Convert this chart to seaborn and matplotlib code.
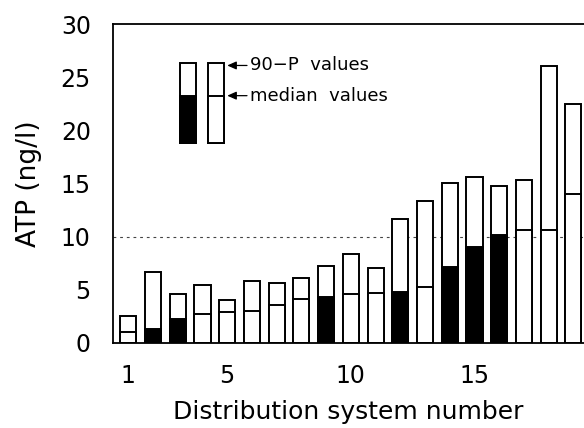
import matplotlib
matplotlib.use('Agg')

import numpy as np
import pandas as pd
import matplotlib.pyplot as plt
import seaborn as sns

sns.set_theme(style="white")
plt.rcParams['font.family'] = ['DejaVu Sans']
plt.rcParams['text.color'] = 'black'
plt.rcParams['axes.labelcolor'] = 'black'
plt.rcParams['xtick.color'] = 'black'
plt.rcParams['ytick.color'] = 'black'

# values (ng/l)
systems = list(range(1, 20))
p90_values = [2.57, 6.71, 4.61, 5.46, 4.05, 5.8, 5.68, 6.11, 7.24, 8.34,
              7.05, 11.66, 13.39, 15.02, 15.59, 14.8, 15.36, 26.06, 22.45]
median_values = [1.03, 1.35, 2.29, 2.76, 2.92, 3.04, 3.61, 4.17, 4.36, 4.58,
                 4.67, 4.83, 5.24, 7.18, 9.06, 10.16, 10.6, 10.6, 14.02]
median_fill = ['white', 'black', 'black', 'white', 'white', 'white', 'white', 'white', 'black', 'white',
               'white', 'black', 'white', 'black', 'black', 'black', 'white', 'white', 'white']

df = pd.DataFrame({'system': systems, 'p90': p90_values,
                   'median': median_values, 'fill': median_fill})

W, H = 584, 428
fig = plt.figure(figsize=(W / 100, H / 100), dpi=100)
ax = fig.add_axes([113 / W, 1 - 343 / H, 1 - 113 / W, (343 - 24) / H])

sns.barplot(data=df, x='system', y='p90', native_scale=True, width=0.65,
            color='white', edgecolor='black', linewidth=1.4, saturation=1, ax=ax)
sns.barplot(data=df, x='system', y='median', hue='fill', native_scale=True, width=0.65,
            palette={'black': 'black', 'white': 'white'}, dodge=False, legend=False,
            edgecolor='black', linewidth=1.4, saturation=1, ax=ax)

ax.axhline(10, color='#444444', lw=0.8, ls=(0, (2.5, 3.5)), zorder=0)

ax.set_xlim(0.38, 19.43)
ax.set_ylim(0, 30)
ax.set_xticks([1, 5, 10, 15])
ax.set_xticks(systems, minor=True)
ax.set_yticks(range(0, 31, 5))
ax.set_yticks(range(0, 31), minor=True)
ax.tick_params(axis='both', which='both', direction='out', color='black', width=1.2)
ax.tick_params(axis='y', which='major', length=7, labelsize=17, pad=9)
ax.tick_params(axis='y', which='minor', length=4.5)
ax.tick_params(axis='x', which='major', length=6, labelsize=17, pad=9)
ax.tick_params(axis='x', which='minor', length=3.5)

for side in ['left', 'bottom', 'top']:
    ax.spines[side].set_color('black')
    ax.spines[side].set_linewidth(1.3)
ax.spines['right'].set_visible(False)

ax.set_xlabel('Distribution system number', fontsize=18, labelpad=9)
ax.set_ylabel('ATP (ng/l)', fontsize=19, labelpad=13)

# legend drawn as two sample bars
lw = 1.4
ax.add_patch(plt.Rectangle((3.09, 18.84), 0.65, 26.3 - 18.84, facecolor='white', edgecolor='black', lw=lw))
ax.add_patch(plt.Rectangle((3.09, 18.84), 0.65, 23.26 - 18.84, facecolor='black', edgecolor='black', lw=lw))
ax.add_patch(plt.Rectangle((4.23, 18.84), 0.65, 26.3 - 18.84, facecolor='white', edgecolor='black', lw=lw))
ax.add_patch(plt.Rectangle((4.23, 18.84), 0.65, 23.26 - 18.84, facecolor='white', edgecolor='black', lw=lw))
arrow = dict(arrowstyle='-|>,head_length=0.45,head_width=0.2', color='black', lw=0.9,
             shrinkA=0, shrinkB=0)
ax.annotate('', xy=(5.0, 26.1), xytext=(5.8, 26.1), arrowprops=arrow)
ax.annotate('', xy=(5.0, 23.26), xytext=(5.8, 23.26), arrowprops=arrow)
ax.text(5.92, 26.1, '90\u2212P  values', fontsize=13, va='center', ha='left')
ax.text(5.92, 23.26, 'median  values', fontsize=13, va='center', ha='left')

fig.savefig('out.png', dpi=100)
